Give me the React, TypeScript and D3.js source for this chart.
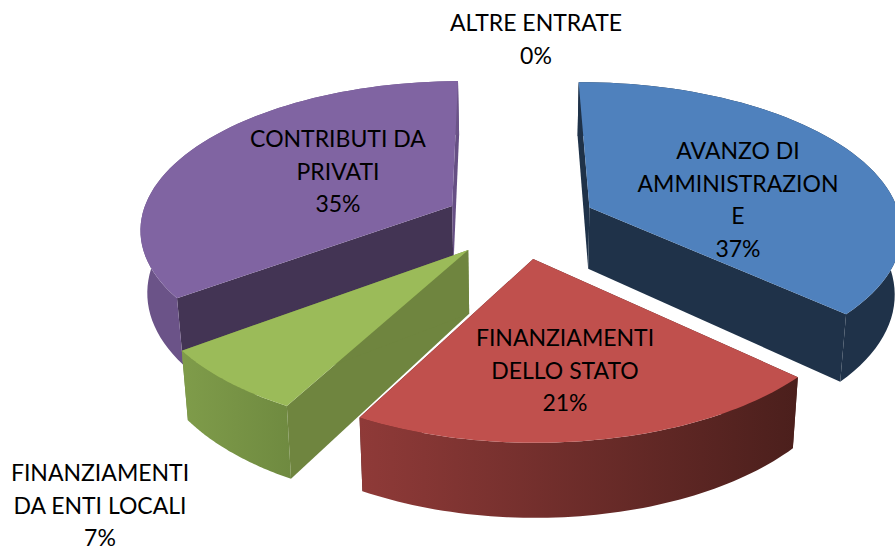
import React from "react";
import * as d3 from "d3";

const categories = ["AVANZO DI AMMINISTRAZIONE", "FINANZIAMENTI DELLO STATO", "FINANZIAMENTI DA ENTI LOCALI", "CONTRIBUTI DA PRIVATI", "ALTRE ENTRATE"];
const values = [37, 21, 7, 35, 0];
const topColors = ["#4f81bd", "#c0504d", "#9bbb59", "#8064a2", "#4bacc6"];
const startWallColors = ["#1f3249", "#4f1f1d", "#6f853f", "#433454", "#2f6f80"];
const endWallColors = ["#1f3249", "#4f1f1d", "#6f853f", "#664f84", "#2f6f80"];
const rimLeft = ["#1f3249", "#8f3a38", "#7f9c4a", "#6b5388", "#2f6f80"];
const rimRight = ["#1f3249", "#4b1f1c", "#6f8a40", "#6b5388", "#2f6f80"];
const labelLines = [
  ["AVANZO DI", "AMMINISTRAZION", "E", "37%"],
  ["FINANZIAMENTI", "DELLO STATO", "21%"],
  ["FINANZIAMENTI", "DA ENTI LOCALI", "7%"],
  ["CONTRIBUTI DA", "PRIVATI", "35%"],
  ["ALTRE ENTRATE", "0%"],
];
const labelAnchors: [number, number][] = [[738, 159], [565, 346], [100, 481], [338, 147], [536, 31]];
const paintOrder = [3, 0, 2, 1];

const cx = 520, cy = 222, R = 312, tilt = 0.47, persp = 0.14, explode = 77, depth = 62, squeeze = 0.018;
const startRotation = (-0.5 * Math.PI) / 180;

type P = [number, number];
// (X, Y) on the disc in pixels, Y toward the viewer; z from 0 (top) to 1 (bottom)
function project(X: number, Y: number, z: number): P {
  const s = 1 / (1 - (persp * Y) / R);
  const sx = s * (1 - squeeze * z);
  return [cx + X * sx, cy + (Y * tilt + depth * z) * s];
}

const pieGen = d3.pie<number>().sort(null).startAngle(startRotation).endAngle(startRotation + 2 * Math.PI);
const arcs = pieGen(values);
const line = d3.line<P>();

export default function App() {
  return (
    <svg width={895} height={548} style={{ position: "absolute", left: 0, top: 0 }} fontFamily="Lato, Carlito, sans-serif">
      <defs>
        {topColors.map((_, i) => (
          <linearGradient key={i} id={`rim${i}`} x1="0" x2="1" y1="0" y2="0">
            <stop offset="0" stopColor={rimLeft[i]} />
            <stop offset="1" stopColor={rimRight[i]} />
          </linearGradient>
        ))}
      </defs>
      {paintOrder.map((i) => {
        const a = arcs[i];
        const mid = (a.startAngle + a.endAngle) / 2;
        const ox = Math.sin(mid) * explode;
        const oy = -Math.cos(mid) * explode;
        const angles = d3.range(0, 61).map((t) => a.startAngle + ((a.endAngle - a.startAngle) * t) / 60);
        const rimAt = (th: number, z: number) => project(ox + Math.sin(th) * R, oy - Math.cos(th) * R, z);
        const apexT = project(ox, oy, 0);
        const apexB = project(ox, oy, 1);
        const top = [apexT, ...angles.map((th) => rimAt(th, 0))];
        const rim = [...angles.map((th) => rimAt(th, 0)), ...angles.slice().reverse().map((th) => rimAt(th, 1))];
        const wallS = [apexT, rimAt(a.startAngle, 0), rimAt(a.startAngle, 1), apexB];
        const wallE = [apexT, rimAt(a.endAngle, 0), rimAt(a.endAngle, 1), apexB];
        return (
          <g key={categories[i]}>
            <path d={line(wallS)! + "Z"} fill={startWallColors[i]} />
            <path d={line(wallE)! + "Z"} fill={endWallColors[i]} />
            <path d={line(rim)! + "Z"} fill={`url(#rim${i})`} />
            <path d={line(top)! + "Z"} fill={topColors[i]} />
          </g>
        );
      })}
      {labelLines.map((lines, i) => (
        <text key={i} textAnchor="middle" fontSize={23} fill="#000">
          {lines.map((l, j) => (
            <tspan key={j} x={labelAnchors[i][0]} y={labelAnchors[i][1] + j * 32.5}>
              {l}
            </tspan>
          ))}
        </text>
      ))}
    </svg>
  );
}
